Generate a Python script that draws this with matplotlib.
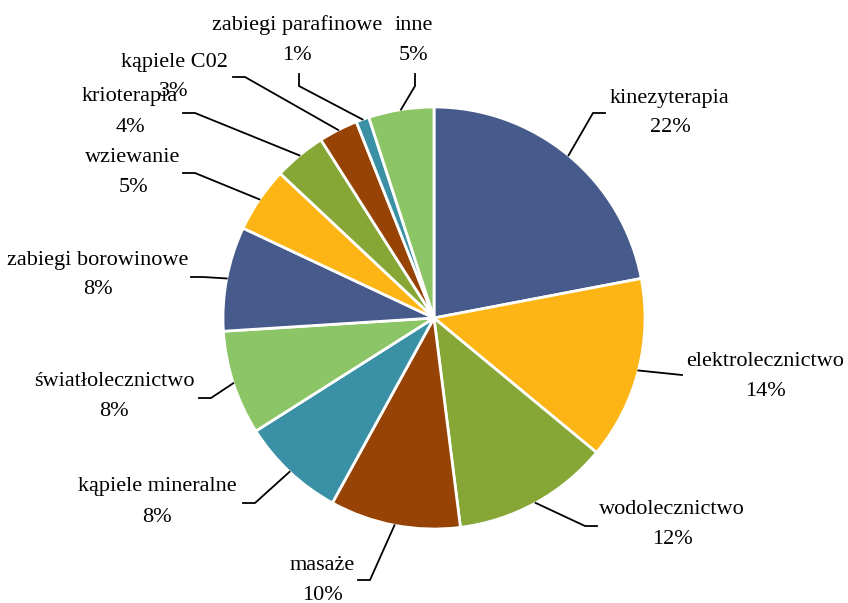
import numpy as np
import matplotlib

matplotlib.use('Agg')
import matplotlib.pyplot as plt

plt.rcParams['font.family'] = ['Liberation Serif', 'DejaVu Serif']

# data (percent shares)
labels = ['kinezyterapia', 'elektrolecznictwo', 'wodolecznictwo', 'masaże',
          'kąpiele mineralne', 'światłolecznictwo', 'zabiegi borowinowe',
          'wziewanie', 'krioterapia', 'kąpiele C02', 'zabiegi parafinowe', 'inne']
values = [22, 14, 12, 10, 8, 8, 8, 5, 4, 3, 1, 5]
colors = ['#465A8B', '#FDB515', '#86A736', '#974306', '#3A91A6', '#8CC566',
          '#465A8B', '#FDB515', '#86A736', '#974306', '#3A91A6', '#8CC566']

# layout in reference pixel coords (x right, y down)
W, H = 848, 603
CENTER = (434, 318)
RADIUS = 211
label_pos = [(670, 113), (765, 376), (672, 525), (322, 580), (157, 502),
             (114, 397), (98, 275), (133, 172), (130, 112), (174, 77),
             (297, 40), (414, 40)]
elbows = [(593, 113), (682, 375), (585, 526), (370, 580), (255, 503),
          (211, 398), (203, 277), (195, 173), (195, 113), (245, 77),
          (299, 86), (415, 86)]
ends = [(605, 113), (682, 375), (597, 526), (358, 580), (243, 503),
        (199, 398), (191, 277), (183, 173), (183, 113), (233, 77),
        (299, 74), (415, 74)]


def px(p):
    return p[0], H - p[1]


fig = plt.figure(figsize=(W / 100, H / 100), dpi=100)
ax = fig.add_axes([0, 0, 1, 1])
wedges, _ = ax.pie(values, colors=colors, startangle=90, counterclock=False,
                   center=px(CENTER), radius=RADIUS,
                   explode=[0.02] * len(values),
                   wedgeprops=dict(edgecolor='white', linewidth=2))
ax.set_xlim(0, W)
ax.set_ylim(0, H)
ax.set_aspect('equal')
ax.axis('off')

for w, name, v, lp, el, en in zip(wedges, labels, values, label_pos, elbows, ends):
    mid = np.deg2rad((w.theta1 + w.theta2) / 2)
    cx, cy = w.center
    sx, sy = cx + w.r * np.cos(mid), cy + w.r * np.sin(mid)
    ex, ey = px(el)
    fx, fy = px(en)
    ax.plot([sx, ex, fx], [sy, ey, fy], color='black', lw=1.3,
            solid_joinstyle='miter')
    x, y = lp
    ax.text(*px((x, y - 15)), name, ha='center', va='center', fontsize=16)
    ax.text(*px((x, y + 15)), f'{v}%', ha='center', va='center', fontsize=16)

fig.savefig('out.png', dpi=100)
